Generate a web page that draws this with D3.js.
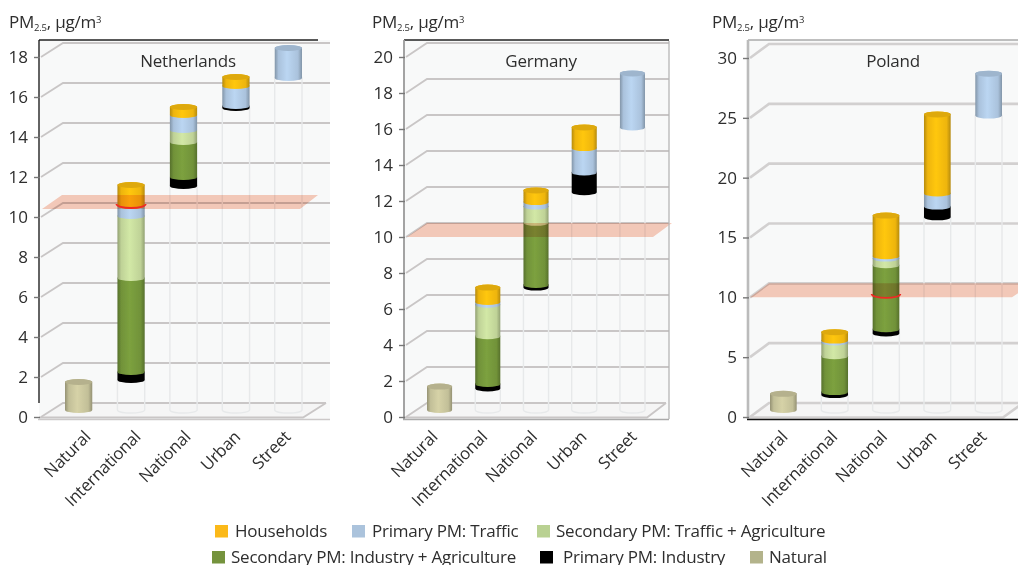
<!DOCTYPE html>
<html>
<head>
<meta charset="utf-8">
<script src="https://cdn.jsdelivr.net/npm/d3@7"></script>
<style>
  html, body { margin: 0; padding: 0; background: #fff; overflow: hidden; }
  text { font-family: "Open Sans", sans-serif; fill: #2e2e2e; }
</style>
</head>
<body>
<svg id="chart" width="1018" height="565"></svg>
<script>
const categories = ["Natural", "International", "National", "Urban", "Street"]
const seriesKeys = ["offset", "natural", "industry", "industryAgri", "trafficAgri", "traffic", "households"]

// stacked thickness of each source per category, ug/m3. offset = empty part below a floating bar
const nlOffset = [0, 1.5, 11.2, 15.1, 16.6]
const nlNatural = [1.4, 0, 0, 0, 0]
const nlIndustry = [0, 0.4, 0.45, 0.1, 0]
const nlIndustryAgri = [0, 4.7, 1.75, 0, 0]
const nlTrafficAgri = [0, 3.1, 0.6, 0, 0]
const nlTraffic = [0, 0.5, 0.75, 1.0, 1.5]
const nlHouseholds = [0, 1.05, 0.4, 0.45, 0]

const deOffset = [0, 1.2, 6.8, 12.1, 15.7]
const deNatural = [1.3, 0, 0, 0, 0]
const deIndustry = [0, 0.25, 0.15, 1.1, 0]
const deIndustryAgri = [0, 2.65, 3.45, 0, 0]
const deTrafficAgri = [0, 1.75, 0.9, 0, 0]
const deTraffic = [0, 0.15, 0.25, 1.35, 3.0]
const deHouseholds = [0, 0.8, 0.65, 1.15, 0]

const plOffset = [0, 1.25, 6.4, 16.1, 24.6]
const plNatural = [1.35, 0, 0, 0, 0]
const plIndustry = [0, 0.25, 0.35, 0.9, 0]
const plIndustryAgri = [0, 3, 5.35, 0, 0]
const plTrafficAgri = [0, 1.15, 0.55, 0, 0]
const plTraffic = [0, 0.15, 0.2, 1.1, 3.5]
const plHouseholds = [0, 0.7, 3.4, 6.6, 0]

const nlTicks = [0, 2, 4, 6, 8, 10, 12, 14, 16, 18]
const deTicks = [0, 2, 4, 6, 8, 10, 12, 14, 16, 18, 20]
const plTicks = [0, 5, 10, 15, 20, 25, 30]

const legendRow1 = ["Households", "Primary PM: Traffic", "Secondary PM: Traffic + Agriculture"]
const legendRow2 = ["Secondary PM: Industry + Agriculture", "Primary PM: Industry", "Natural"]

const colors = {
  households: "#fbbf10",
  traffic: "#b3cde8",
  trafficAgri: "#c9de9f",
  industryAgri: "#779a3c",
  industry: "#050505",
  natural: "#cdc9a0",
}
const legendColors1 = ["#fbb919", "#abc3dc", "#b9d192"]
const legendColors2 = ["#75933d", "#000000", "#b3b38b"]

const fontSize = "17px"
const spacing = "-0.22px"

const svg = d3.select("#chart")
const defs = svg.append("defs")

const shade = (id, base) => {
  const c = d3.color(base)
  const grad = defs.append("linearGradient").attr("id", id)
  const stops = [
    [0, c.darker(0.9)], [0.14, c.darker(0.15)], [0.45, c.brighter(0.12)],
    [0.85, c.darker(0.15)], [1, c.darker(0.9)],
  ]
  stops.forEach(([o, col]) => grad.append("stop").attr("offset", o).attr("stop-color", col))
}
Object.keys(colors).forEach((k) => shade("grad-" + k, colors[k]))
defs.append("filter").attr("id", "soft").append("feGaussianBlur").attr("stdDeviation", 0.45)

const drawPanel = (p) => {
  const g = svg.append("g")
  const y = d3.scaleLinear().domain([0, p.max]).range([p.y0, p.y1])
  const band = d3.scaleBand().domain(categories).range(p.barRange).paddingInner(0.48)
  const labelX = d3.scalePoint().domain(categories).range(p.labelRange)
  const midY = (v) => y(v) - 7
  const backY = (v) => y(v) - 14

  // wall
  g.append("rect")
    .attr("x", p.axisX).attr("y", 40)
    .attr("width", p.wallRight - p.axisX).attr("height", 379)
    .attr("fill", "#f8f9f9")

  // floor
  const floor = [
    [p.axisX + 2, y(0)], [p.backX, backY(0)], [p.floorRight + p.dx, backY(0)], [p.floorRight, y(0)],
  ]
  g.append("polygon").attr("points", floor.join(" ")).attr("fill", "#f5f5f5")

  // grid, back wall + diagonal
  const grid = g.append("g").attr("fill", "none").attr("stroke", p.gridColor).attr("stroke-width", p.gridWidth)
  p.ticks.forEach((t) => {
    grid.append("path")
      .attr("d", `M${p.axisX + 2},${y(t)}L${p.backX},${backY(t)}H${t === 0 ? p.floorRight + p.dx : p.wallRight}`)
  })
  grid.append("path").attr("d", `M${p.axisX},${y(0) + 0.5}H${p.floorRight}L${p.floorRight + p.dx},${backY(0)}`)

  // stacked cylinders
  const rows = categories.map((c, i) => ({
    category: c,
    offset: p.data.offset[i],
    natural: p.data.natural[i],
    industry: p.data.industry[i],
    industryAgri: p.data.industryAgri[i],
    trafficAgri: p.data.trafficAgri[i],
    traffic: p.data.traffic[i],
    households: p.data.households[i],
  }))
  const stacked = d3.stack().keys(seriesKeys)(rows)
  const ry = 3
  const cylinder = (cat, v0, v1) => {
    const l = band(cat)
    const r = l + band.bandwidth()
    const rx = band.bandwidth() / 2
    return `M${l},${midY(v1)}V${midY(v0)}A${rx},${ry} 0 0 0 ${r},${midY(v0)}V${midY(v1)}A${rx},${ry} 0 0 0 ${l},${midY(v1)}Z`
  }

  const ghosts = g.append("g")
  const bars = g.append("g").attr("filter", "url(#soft)")

  // faint empty tube from the floor up to the floating bar
  categories.forEach((cat, i) => {
    if (p.data.offset[i] > 0) {
      ghosts.append("path")
        .attr("d", cylinder(cat, 0, p.data.offset[i]))
        .attr("fill", "none")
        .attr("stroke", "#e7e9ea").attr("stroke-width", 1.4)
    }
  })

  stacked.filter((s) => s.key !== "offset").forEach((s) => {
    bars.selectAll(null)
      .data(s.filter((d) => d[1] > d[0]))
      .join("path")
      .attr("d", (d) => cylinder(d.data.category, d[0], d[1]))
      .attr("fill", `url(#grad-${s.key})`)
  })

  // top caps
  categories.forEach((cat, i) => {
    const topVal = d3.max(stacked, (s) => s[i][1])
    const topKey = [...stacked].reverse().find((s) => s[i][1] > s[i][0]).key
    bars.append("ellipse")
      .attr("cx", band(cat) + band.bandwidth() / 2)
      .attr("cy", midY(topVal))
      .attr("rx", band.bandwidth() / 2)
      .attr("ry", ry)
      .attr("fill", d3.color(colors[topKey]).darker(0.35))
  })

  // limit plate
  const plate = [
    [p.plate[0], y(p.plateLevel)], [p.plate[1], backY(p.plateLevel)],
    [p.plate[3], backY(p.plateLevel)], [p.plate[2], y(p.plateLevel)],
  ]
  g.append("polygon")
    .attr("points", plate.join(" "))
    .attr("fill", "#f9cdbd")
    .style("mix-blend-mode", "multiply")

  // red intersection arc
  if (p.arc) {
    const l = band(p.arc.category) - 1
    const r = band(p.arc.category) + band.bandwidth() + 1
    const rx = band.bandwidth() / 2 + 1
    g.append("path")
      .attr("d", `M${l},${midY(p.arc.value)}A${rx},4 0 0 0 ${r},${midY(p.arc.value)}`)
      .attr("fill", "none").attr("stroke", "#ee2a24").attr("stroke-width", 1.8)
  }

  // frame
  const frame = g.append("g").attr("fill", "none").attr("stroke-width", 1.3)
  frame.append("path").attr("d", `M${p.axisX},40H${p.topRight}`).attr("stroke", p.topColor)
  frame.append("path").attr("d", `M${p.axisX},40V${p.leftBottom}`).attr("stroke", p.leftColor).attr("stroke-width", p.leftWidth)
  frame.append("path").attr("d", `M${p.axisX - 1},${y(0) + 2.5}H${p.wallRight}`).attr("stroke", p.bottomColor)
  if (p.rightLine) frame.append("path").attr("d", `M${p.wallRight},41V${y(0) + 2}`).attr("stroke", "#b5b5b5")

  // axes
  const yAxis = d3.axisLeft(y).tickValues(p.ticks).tickSize(6).tickPadding(6).tickFormat(d3.format("d"))
  const ya = g.append("g").attr("transform", `translate(${p.axisX + 1},0)`).call(yAxis)
  ya.select(".domain").remove()
  ya.selectAll("line").attr("stroke", "#777").attr("stroke-width", 1.4)
  ya.selectAll("text").style("font-size", "17px").style("fill", "#2e2e2e")

  const xAxis = d3.axisBottom(labelX).tickSize(0).tickPadding(0)
  const xa = g.append("g").attr("transform", "translate(1,438)").call(xAxis)
  xa.select(".domain").remove()
  xa.selectAll("text")
    .attr("text-anchor", "end")
    .attr("dx", 0).attr("dy", 0).attr("y", 0)
    .attr("transform", "rotate(-45)")
    .style("font-size", "16.8px")
    .style("letter-spacing", spacing)
    .style("fill", "#2e2e2e")

  // title + unit
  g.append("text").attr("x", p.titleX).attr("y", 66.5).attr("text-anchor", "middle")
    .style("font-size", fontSize).style("letter-spacing", spacing).text(p.title)
  const unit = g.append("text").attr("x", p.unitX).attr("y", 28)
    .style("font-size", fontSize).style("letter-spacing", spacing)
  unit.append("tspan").text("PM")
  unit.append("tspan").attr("dy", 3).style("font-size", "9.5px").text("2.5")
  unit.append("tspan").attr("dy", -3).text(", µg/m")
  unit.append("tspan").attr("dy", -5).style("font-size", "9.5px").text("3")
}

drawPanel({
  title: "Netherlands", titleX: 188, unitX: 9, max: 18, ticks: nlTicks, y0: 417, y1: 57,
  axisX: 39, backX: 63, dx: 23, wallRight: 330, floorRight: 303, topRight: 318,
  barRange: [65, 302], labelRange: [90, 290],
  plateLevel: 10.4, plate: [42, 62, 300, 318],
  arc: { category: "International", value: 10.3 },
  gridColor: "#c9c6c6", gridWidth: 1.8,
  topColor: "#222", leftColor: "#111", leftWidth: 1.3, leftBottom: 403, bottomColor: "#ccc9c9", rightLine: false,
  data: { offset: nlOffset, natural: nlNatural, industry: nlIndustry, industryAgri: nlIndustryAgri, trafficAgri: nlTrafficAgri, traffic: nlTraffic, households: nlHouseholds },
})
drawPanel({
  title: "Germany", titleX: 541, unitX: 372, max: 20, ticks: deTicks, y0: 417, y1: 57,
  axisX: 404, backX: 427, dx: 19, wallRight: 669, floorRight: 647, topRight: 669,
  barRange: [427, 645], labelRange: [437, 636],
  plateLevel: 10, plate: [407, 427, 653, 672],
  gridColor: "#c9c6c6", gridWidth: 1.8,
  topColor: "#222", leftColor: "#999", leftWidth: 1.8, leftBottom: 419, bottomColor: "#aaa", rightLine: true,
  data: { offset: deOffset, natural: deNatural, industry: deIndustry, industryAgri: deIndustryAgri, trafficAgri: deTrafficAgri, traffic: deTraffic, households: deHouseholds },
})
drawPanel({
  title: "Poland", titleX: 893, unitX: 712, max: 30, ticks: plTicks, y0: 417, y1: 58,
  axisX: 748, backX: 769, dx: 20, wallRight: 1018, floorRight: 1003, topRight: 1018,
  barRange: [770, 1002], labelRange: [787, 986],
  plateLevel: 10, plate: [750, 769, 1012, 1032],
  arc: { category: "National", value: 9.7 },
  gridColor: "#d2d0d0", gridWidth: 2.6,
  topColor: "#aaa", leftColor: "#bbb", leftWidth: 2.6, leftBottom: 419, bottomColor: "#111", rightLine: false,
  data: { offset: plOffset, natural: plNatural, industry: plIndustry, industryAgri: plIndustryAgri, trafficAgri: plTrafficAgri, traffic: plTraffic, households: plHouseholds },
})

// legend
const drawLegend = (names, cols, swatchX, textX, rowY) => {
  const leg = svg.append("g")
  names.forEach((n, i) => {
    leg.append("rect").attr("x", swatchX[i]).attr("y", rowY - 6).attr("width", 13).attr("height", 12.5).attr("fill", cols[i])
    leg.append("text").attr("x", textX[i]).attr("y", rowY + 5.5)
      .style("font-size", fontSize).style("letter-spacing", spacing).text(n)
  })
}
drawLegend(legendRow1, legendColors1, [215, 352, 537], [235, 372, 556], 531)
drawLegend(legendRow2, legendColors2, [212, 540, 750], [231, 563, 769], 557)
</script>
</body>
</html>
